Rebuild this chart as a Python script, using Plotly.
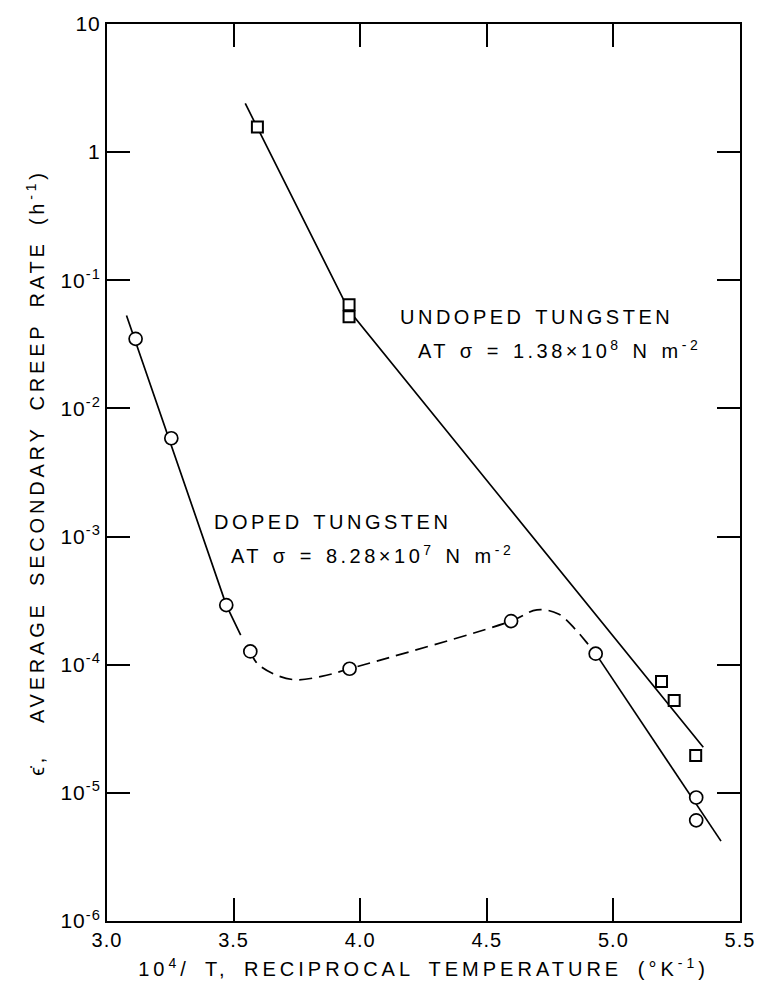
import plotly.graph_objects as go

# ---- data ----
doped_x = [3.113, 3.254, 3.471, 3.566, 3.958, 4.596, 4.930, 5.327, 5.327]
doped_y = [3.49e-2, 5.85e-3, 2.92e-4, 1.27e-4, 9.3e-5, 2.19e-4, 1.22e-4, 9.2e-6, 6.1e-6]

undoped_x = [3.594, 3.956, 3.956, 5.190, 5.240, 5.325]
undoped_y = [1.57, 6.43e-2, 5.19e-2, 7.4e-5, 5.26e-5, 1.96e-5]

# fitted lines / curves
undoped_fit_x = [3.546, 3.956, 5.355]
undoped_fit_y = [2.40, 5.8e-2, 2.27e-5]

doped_fit1_x = [3.077, 3.471, 3.528]
doped_fit1_y = [5.32e-2, 2.92e-4, 1.70e-4]

doped_dash_x = [3.566, 3.592, 3.659, 3.741, 3.847, 3.958, 4.596, 4.698, 4.783, 4.854, 4.903, 4.930]
doped_dash_y = [1.27e-4, 1.03e-4, 8.45e-5, 7.64e-5, 8.1e-5, 9.3e-5, 2.19e-4, 2.68e-4, 2.49e-4, 1.85e-4, 1.42e-4, 1.22e-4]

doped_fit2_x = [4.930, 5.425]
doped_fit2_y = [1.22e-4, 4.2e-6]

x_ticks = [3.0, 3.5, 4.0, 4.5, 5.0, 5.5]
x_ticktext = ["3.0", "3.5", "4.0", "4.5", "5.0", "5.5"]
y_ticks = [1e-6, 1e-5, 1e-4, 1e-3, 1e-2, 1e-1, 1, 10]
y_ticktext = ["10<sup>-6</sup>", "10<sup>-5</sup>", "10<sup>-4</sup>", "10<sup>-3</sup>",
              "10<sup>-2</sup>", "10<sup>-1</sup>", "1", "10"]

FONT = "Liberation Sans"
ANN_STYLE = "letter-spacing:3.5px;word-spacing:2px"
XTITLE_STYLE = "letter-spacing:4px;word-spacing:6px"
YTITLE_STYLE = "letter-spacing:3.8px;word-spacing:6px"
TICK_STYLE = "letter-spacing:1px"

fig = go.Figure()

line_style = dict(color="black", width=1.7)

fig.add_trace(go.Scatter(x=undoped_fit_x, y=undoped_fit_y, mode="lines", line=line_style,
                         hoverinfo="skip", showlegend=False))
fig.add_trace(go.Scatter(x=doped_fit1_x, y=doped_fit1_y, mode="lines", line=line_style,
                         hoverinfo="skip", showlegend=False))
fig.add_trace(go.Scatter(x=doped_dash_x, y=doped_dash_y, mode="lines",
                         line=dict(color="black", width=1.7, dash="13px,7px", shape="spline", smoothing=1.0),
                         hoverinfo="skip", showlegend=False))
fig.add_trace(go.Scatter(x=doped_fit2_x, y=doped_fit2_y, mode="lines", line=line_style,
                         hoverinfo="skip", showlegend=False))

fig.add_trace(go.Scatter(x=doped_x, y=doped_y, mode="markers", name="Doped",
                         marker=dict(symbol="circle", size=13, color="white",
                                     line=dict(color="black", width=1.7)),
                         showlegend=False))
fig.add_trace(go.Scatter(x=undoped_x, y=undoped_y, mode="markers", name="Undoped",
                         marker=dict(symbol="square", size=11, color="white",
                                     line=dict(color="black", width=2)),
                         showlegend=False))

ann_font = dict(family=FONT, size=20, color="black")
annotations = [
    dict(x=4.150, y=-1.29, text=f'<span style="{ANN_STYLE}">UNDOPED TUNGSTEN</span>'),
    dict(x=4.221, y=-1.537, text=f'<span style="{ANN_STYLE}">AT σ = 1.38×10<sup>8</sup> N m<sup>-2</sup></span>'),
    dict(x=3.416, y=-2.886, text=f'<span style="{ANN_STYLE}">DOPED TUNGSTEN</span>'),
    dict(x=3.483, y=-3.14, text=f'<span style="{ANN_STYLE}">AT σ = 8.28×10<sup>7</sup> N m<sup>-2</sup></span>'),
]
for a in annotations:
    a.update(xref="x", yref="y", xanchor="left", yanchor="middle", showarrow=False, font=ann_font)

fig.update_layout(
    width=767, height=992,
    margin=dict(l=107, r=23, t=13, b=71),
    paper_bgcolor="white", plot_bgcolor="white",
    font=dict(family=FONT, size=20, color="black"),
    annotations=annotations,
    xaxis=dict(
        range=[3.0, 5.5], tickvals=x_ticks,
        ticktext=[f'<span style="{TICK_STYLE}">{t}</span>' for t in x_ticktext],
        ticks="inside", ticklen=23, tickwidth=1.6, tickcolor="black",
        showline=True, linewidth=2, linecolor="black", mirror="ticks",
        showgrid=False, zeroline=False,
        tickfont=dict(family=FONT, size=20),
        title=dict(text=f'<span style="{XTITLE_STYLE}">10<sup>4</sup>/ T, RECIPROCAL TEMPERATURE (°K<sup>-1</sup>)</span>',
                   font=dict(family=FONT, size=20), standoff=12),
    ),
    yaxis=dict(
        type="log", range=[-6, 1], tickvals=y_ticks,
        ticktext=[f'<span style="{TICK_STYLE}">{t}</span>' for t in y_ticktext],
        ticks="inside", ticklen=23, tickwidth=1.6, tickcolor="black",
        showline=True, linewidth=2, linecolor="black", mirror="ticks",
        showgrid=False, zeroline=False,
        tickfont=dict(family=FONT, size=21),
        title=dict(text=f'<span style="{YTITLE_STYLE}">ϵ̇,  AVERAGE SECONDARY CREEP RATE (h<sup>-1</sup>)</span>',
                   font=dict(family=FONT, size=20), standoff=10),
    ),
)

fig.write_html("out.html")
